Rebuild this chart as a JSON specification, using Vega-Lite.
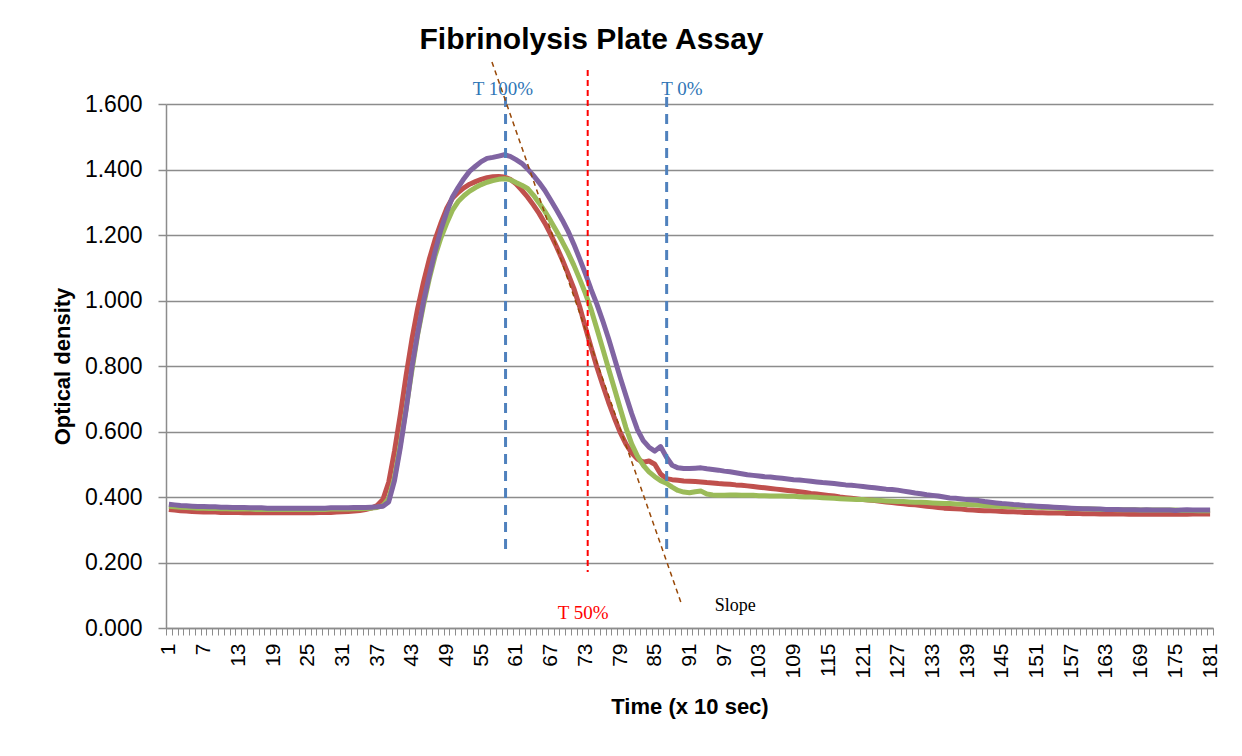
{
  "$schema": "https://vega.github.io/schema/vega-lite/v6.json",
  "autosize": "none",
  "width": 1047,
  "height": 524,
  "padding": {"left": 166, "top": 104, "right": 29, "bottom": 128},
  "background": "white",
  "config": {
    "font": "Liberation Sans",
    "view": {"stroke": null},
    "title": {"font": "Liberation Sans", "fontSize": 30, "fontWeight": "bold", "color": "#000000", "anchor": "middle", "frame": "group", "dx": -98, "offset": 0}
  },
  "title": "Fibrinolysis Plate Assay",
  "datasets": {
    "od": [
      {"t":1,"r":0.362,"g":0.372,"p":0.378},{"t":2,"r":0.360,"g":0.370,"p":0.376},{"t":3,"r":0.358,"g":0.369,"p":0.374},{"t":4,"r":0.357,"g":0.368,"p":0.373},{"t":5,"r":0.356,"g":0.367,"p":0.372},
      {"t":6,"r":0.355,"g":0.366,"p":0.371},{"t":7,"r":0.354,"g":0.366,"p":0.371},{"t":8,"r":0.354,"g":0.365,"p":0.370},{"t":9,"r":0.354,"g":0.365,"p":0.370},{"t":10,"r":0.353,"g":0.364,"p":0.369},
      {"t":11,"r":0.353,"g":0.364,"p":0.369},{"t":12,"r":0.353,"g":0.363,"p":0.368},{"t":13,"r":0.353,"g":0.363,"p":0.368},{"t":14,"r":0.352,"g":0.363,"p":0.368},{"t":15,"r":0.352,"g":0.363,"p":0.367},
      {"t":16,"r":0.352,"g":0.362,"p":0.367},{"t":17,"r":0.352,"g":0.362,"p":0.367},{"t":18,"r":0.352,"g":0.362,"p":0.366},{"t":19,"r":0.352,"g":0.362,"p":0.366},{"t":20,"r":0.352,"g":0.362,"p":0.366},
      {"t":21,"r":0.352,"g":0.362,"p":0.366},{"t":22,"r":0.352,"g":0.362,"p":0.366},{"t":23,"r":0.352,"g":0.362,"p":0.366},{"t":24,"r":0.352,"g":0.362,"p":0.366},{"t":25,"r":0.352,"g":0.362,"p":0.366},
      {"t":26,"r":0.352,"g":0.362,"p":0.366},{"t":27,"r":0.353,"g":0.362,"p":0.366},{"t":28,"r":0.353,"g":0.362,"p":0.366},{"t":29,"r":0.353,"g":0.363,"p":0.367},{"t":30,"r":0.354,"g":0.363,"p":0.367},
      {"t":31,"r":0.355,"g":0.363,"p":0.367},{"t":32,"r":0.356,"g":0.363,"p":0.367},{"t":33,"r":0.357,"g":0.364,"p":0.368},{"t":34,"r":0.359,"g":0.364,"p":0.368},{"t":35,"r":0.362,"g":0.365,"p":0.368},
      {"t":36,"r":0.366,"g":0.366,"p":0.369},{"t":37,"r":0.374,"g":0.368,"p":0.370},{"t":38,"r":0.392,"g":0.374,"p":0.372},{"t":39,"r":0.445,"g":0.395,"p":0.385},{"t":40,"r":0.540,"g":0.460,"p":0.450},
      {"t":41,"r":0.650,"g":0.560,"p":0.550},{"t":42,"r":0.770,"g":0.670,"p":0.665},{"t":43,"r":0.880,"g":0.785,"p":0.795},{"t":44,"r":0.975,"g":0.895,"p":0.900},{"t":45,"r":1.055,"g":0.985,"p":0.995},
      {"t":46,"r":1.125,"g":1.065,"p":1.075},{"t":47,"r":1.185,"g":1.135,"p":1.148},{"t":48,"r":1.235,"g":1.190,"p":1.215},{"t":49,"r":1.280,"g":1.235,"p":1.268},{"t":50,"r":1.312,"g":1.275,"p":1.315},
      {"t":51,"r":1.330,"g":1.302,"p":1.345},{"t":52,"r":1.344,"g":1.320,"p":1.372},{"t":53,"r":1.355,"g":1.334,"p":1.395},{"t":54,"r":1.363,"g":1.345,"p":1.410},{"t":55,"r":1.370,"g":1.354,"p":1.424},
      {"t":56,"r":1.375,"g":1.361,"p":1.434},{"t":57,"r":1.378,"g":1.366,"p":1.437},{"t":58,"r":1.379,"g":1.370,"p":1.441},{"t":59,"r":1.377,"g":1.372,"p":1.445},{"t":60,"r":1.370,"g":1.369,"p":1.440},
      {"t":61,"r":1.356,"g":1.360,"p":1.430},{"t":62,"r":1.337,"g":1.352,"p":1.419},{"t":63,"r":1.316,"g":1.342,"p":1.402},{"t":64,"r":1.292,"g":1.322,"p":1.382},{"t":65,"r":1.266,"g":1.298,"p":1.360},
      {"t":66,"r":1.236,"g":1.272,"p":1.336},{"t":67,"r":1.202,"g":1.243,"p":1.307},{"t":68,"r":1.165,"g":1.212,"p":1.277},{"t":69,"r":1.125,"g":1.180,"p":1.246},{"t":70,"r":1.082,"g":1.146,"p":1.212},
      {"t":71,"r":1.037,"g":1.108,"p":1.172},{"t":72,"r":0.982,"g":1.066,"p":1.128},{"t":73,"r":0.918,"g":1.022,"p":1.082},{"t":74,"r":0.856,"g":0.972,"p":1.033},{"t":75,"r":0.796,"g":0.913,"p":0.988},
      {"t":76,"r":0.742,"g":0.853,"p":0.938},{"t":77,"r":0.690,"g":0.792,"p":0.884},{"t":78,"r":0.642,"g":0.732,"p":0.825},{"t":79,"r":0.598,"g":0.672,"p":0.766},{"t":80,"r":0.562,"g":0.612,"p":0.710},
      {"t":81,"r":0.535,"g":0.562,"p":0.655},{"t":82,"r":0.516,"g":0.525,"p":0.606},{"t":83,"r":0.506,"g":0.497,"p":0.572},{"t":84,"r":0.510,"g":0.477,"p":0.552},{"t":85,"r":0.500,"g":0.462,"p":0.540},
      {"t":86,"r":0.470,"g":0.450,"p":0.554},{"t":87,"r":0.456,"g":0.442,"p":0.522},{"t":88,"r":0.453,"g":0.430,"p":0.497},{"t":89,"r":0.451,"g":0.420,"p":0.489},{"t":90,"r":0.449,"g":0.415,"p":0.487},
      {"t":91,"r":0.448,"g":0.413,"p":0.487},{"t":92,"r":0.447,"g":0.416,"p":0.488},{"t":93,"r":0.446,"g":0.418,"p":0.489},{"t":94,"r":0.444,"g":0.409,"p":0.486},{"t":95,"r":0.443,"g":0.406,"p":0.484},
      {"t":96,"r":0.441,"g":0.405,"p":0.482},{"t":97,"r":0.440,"g":0.405,"p":0.479},{"t":98,"r":0.439,"g":0.406,"p":0.477},{"t":99,"r":0.437,"g":0.406,"p":0.474},{"t":100,"r":0.436,"g":0.405,"p":0.471},
      {"t":101,"r":0.434,"g":0.405,"p":0.468},{"t":102,"r":0.432,"g":0.405,"p":0.466},{"t":103,"r":0.430,"g":0.404,"p":0.464},{"t":104,"r":0.428,"g":0.404,"p":0.462},{"t":105,"r":0.426,"g":0.403,"p":0.461},
      {"t":106,"r":0.424,"g":0.403,"p":0.459},{"t":107,"r":0.422,"g":0.403,"p":0.457},{"t":108,"r":0.420,"g":0.402,"p":0.455},{"t":109,"r":0.418,"g":0.402,"p":0.453},{"t":110,"r":0.416,"g":0.401,"p":0.452},
      {"t":111,"r":0.414,"g":0.400,"p":0.450},{"t":112,"r":0.411,"g":0.400,"p":0.448},{"t":113,"r":0.409,"g":0.399,"p":0.446},{"t":114,"r":0.407,"g":0.398,"p":0.444},{"t":115,"r":0.405,"g":0.397,"p":0.443},
      {"t":116,"r":0.403,"g":0.396,"p":0.441},{"t":117,"r":0.400,"g":0.395,"p":0.439},{"t":118,"r":0.398,"g":0.394,"p":0.437},{"t":119,"r":0.396,"g":0.393,"p":0.436},{"t":120,"r":0.394,"g":0.392,"p":0.434},
      {"t":121,"r":0.392,"g":0.392,"p":0.432},{"t":122,"r":0.391,"g":0.391,"p":0.430},{"t":123,"r":0.389,"g":0.390,"p":0.428},{"t":124,"r":0.387,"g":0.389,"p":0.426},{"t":125,"r":0.385,"g":0.388,"p":0.424},
      {"t":126,"r":0.383,"g":0.387,"p":0.423},{"t":127,"r":0.381,"g":0.386,"p":0.421},{"t":128,"r":0.379,"g":0.386,"p":0.418},{"t":129,"r":0.377,"g":0.385,"p":0.415},{"t":130,"r":0.376,"g":0.384,"p":0.412},
      {"t":131,"r":0.374,"g":0.384,"p":0.410},{"t":132,"r":0.372,"g":0.383,"p":0.407},{"t":133,"r":0.370,"g":0.382,"p":0.405},{"t":134,"r":0.368,"g":0.381,"p":0.403},{"t":135,"r":0.366,"g":0.380,"p":0.400},
      {"t":136,"r":0.365,"g":0.380,"p":0.397},{"t":137,"r":0.364,"g":0.379,"p":0.396},{"t":138,"r":0.363,"g":0.378,"p":0.394},{"t":139,"r":0.361,"g":0.377,"p":0.392},{"t":140,"r":0.360,"g":0.376,"p":0.391},
      {"t":141,"r":0.359,"g":0.375,"p":0.389},{"t":142,"r":0.358,"g":0.374,"p":0.386},{"t":143,"r":0.358,"g":0.373,"p":0.384},{"t":144,"r":0.357,"g":0.372,"p":0.382},{"t":145,"r":0.356,"g":0.371,"p":0.380},
      {"t":146,"r":0.355,"g":0.371,"p":0.379},{"t":147,"r":0.355,"g":0.370,"p":0.377},{"t":148,"r":0.354,"g":0.370,"p":0.376},{"t":149,"r":0.353,"g":0.369,"p":0.374},{"t":150,"r":0.353,"g":0.369,"p":0.373},
      {"t":151,"r":0.352,"g":0.369,"p":0.372},{"t":152,"r":0.352,"g":0.368,"p":0.371},{"t":153,"r":0.351,"g":0.367,"p":0.370},{"t":154,"r":0.351,"g":0.367,"p":0.369},{"t":155,"r":0.351,"g":0.366,"p":0.368},
      {"t":156,"r":0.350,"g":0.365,"p":0.367},{"t":157,"r":0.350,"g":0.365,"p":0.366},{"t":158,"r":0.350,"g":0.364,"p":0.365},{"t":159,"r":0.349,"g":0.364,"p":0.364},{"t":160,"r":0.349,"g":0.363,"p":0.364},
      {"t":161,"r":0.349,"g":0.363,"p":0.363},{"t":162,"r":0.348,"g":0.362,"p":0.363},{"t":163,"r":0.348,"g":0.362,"p":0.362},{"t":164,"r":0.348,"g":0.362,"p":0.362},{"t":165,"r":0.348,"g":0.361,"p":0.362},
      {"t":166,"r":0.348,"g":0.361,"p":0.361},{"t":167,"r":0.347,"g":0.361,"p":0.361},{"t":168,"r":0.347,"g":0.361,"p":0.361},{"t":169,"r":0.347,"g":0.360,"p":0.360},{"t":170,"r":0.347,"g":0.360,"p":0.361},
      {"t":171,"r":0.347,"g":0.360,"p":0.360},{"t":172,"r":0.347,"g":0.360,"p":0.360},{"t":173,"r":0.347,"g":0.360,"p":0.360},{"t":174,"r":0.347,"g":0.360,"p":0.360},{"t":175,"r":0.347,"g":0.360,"p":0.359},
      {"t":176,"r":0.347,"g":0.359,"p":0.360},{"t":177,"r":0.347,"g":0.359,"p":0.361},{"t":178,"r":0.348,"g":0.359,"p":0.360},{"t":179,"r":0.348,"g":0.358,"p":0.360},{"t":180,"r":0.348,"g":0.358,"p":0.360},
      {"t":181,"r":0.348,"g":0.358,"p":0.360}
    ],
    "blueMarks": [
      {"t": 59.2, "top": 1.621, "bottom": 0.223},
      {"t": 87.05, "top": 1.621, "bottom": 0.223}
    ],
    "redMarks": [
      {"t": 73.4, "top": 1.704, "bottom": 0.171}
    ],
    "slope": [
      {"t": 56.85, "v": 1.728},
      {"t": 89.5, "v": 0.079}
    ],
    "blueLabels": [
      {"t": 58.75, "v": 1.646, "label": "T 100%"},
      {"t": 89.7, "v": 1.646, "label": "T 0%"}
    ],
    "redLabels": [
      {"t": 72.6, "v": 0.046, "label": "T 50%"}
    ],
    "blackLabels": [
      {"t": 98.9, "v": 0.067, "label": "Slope"}
    ]
  },
  "resolve": {"axis": {"x": "independent", "y": "independent"}},
  "layer": [
    {
      "data": {"name": "od"},
      "transform": [{"fold": ["r", "g", "p"], "as": ["series", "value"]}],
      "mark": {"type": "line", "strokeWidth": 5, "clip": false, "strokeJoin": "round"},
      "encoding": {
        "x": {
          "field": "t", "type": "quantitative",
          "scale": {"domain": [0.5, 181.5], "nice": false, "zero": false},
          "axis": {
            "orient": "bottom",
            "values": [0.5,1.5,2.5,3.5,4.5,5.5,6.5,7.5,8.5,9.5,10.5,11.5,12.5,13.5,14.5,15.5,16.5,17.5,18.5,19.5,20.5,21.5,22.5,23.5,24.5,25.5,26.5,27.5,28.5,29.5,30.5,31.5,32.5,33.5,34.5,35.5,36.5,37.5,38.5,39.5,40.5,41.5,42.5,43.5,44.5,45.5,46.5,47.5,48.5,49.5,50.5,51.5,52.5,53.5,54.5,55.5,56.5,57.5,58.5,59.5,60.5,61.5,62.5,63.5,64.5,65.5,66.5,67.5,68.5,69.5,70.5,71.5,72.5,73.5,74.5,75.5,76.5,77.5,78.5,79.5,80.5,81.5,82.5,83.5,84.5,85.5,86.5,87.5,88.5,89.5,90.5,91.5,92.5,93.5,94.5,95.5,96.5,97.5,98.5,99.5,100.5,101.5,102.5,103.5,104.5,105.5,106.5,107.5,108.5,109.5,110.5,111.5,112.5,113.5,114.5,115.5,116.5,117.5,118.5,119.5,120.5,121.5,122.5,123.5,124.5,125.5,126.5,127.5,128.5,129.5,130.5,131.5,132.5,133.5,134.5,135.5,136.5,137.5,138.5,139.5,140.5,141.5,142.5,143.5,144.5,145.5,146.5,147.5,148.5,149.5,150.5,151.5,152.5,153.5,154.5,155.5,156.5,157.5,158.5,159.5,160.5,161.5,162.5,163.5,164.5,165.5,166.5,167.5,168.5,169.5,170.5,171.5,172.5,173.5,174.5,175.5,176.5,177.5,178.5,179.5,180.5,181.5],
            "labels": false, "grid": false, "title": null,
            "domainColor": "#8c8c8c", "domainWidth": 1.5,
            "tickColor": "#8c8c8c", "tickWidth": 1, "tickSize": 7
          }
        },
        "y": {
          "field": "value", "type": "quantitative",
          "scale": {"domain": [0, 1.6], "nice": false, "zero": true},
          "axis": {
            "orient": "left",
            "values": [0, 0.2, 0.4, 0.6, 0.8, 1.0, 1.2, 1.4, 1.6],
            "format": ".3f",
            "title": "Optical density",
            "titleFontSize": 22, "titleFontWeight": "bold", "titleColor": "#000000", "titlePadding": 10,
            "labelFontSize": 23, "labelColor": "#000000", "labelPadding": 16,
            "grid": true, "gridColor": "#8c8c8c", "gridWidth": 1.5,
            "domainColor": "#8c8c8c", "domainWidth": 1.5,
            "tickColor": "#8c8c8c", "tickWidth": 1.5, "tickSize": 8
          }
        },
        "color": {
          "field": "series", "type": "nominal",
          "scale": {"domain": ["r", "g", "p"], "range": ["#C0504D", "#9BBB59", "#8064A2"]},
          "legend": null
        }
      }
    },
    {
      "data": {"name": "blueMarks"},
      "mark": {"type": "rule", "color": "#4F81BD", "strokeWidth": 3, "strokeDash": [10, 7], "clip": false},
      "encoding": {
        "x": {
          "field": "t", "type": "quantitative",
          "scale": {"domain": [0.5, 181.5], "nice": false, "zero": false},
          "axis": {
            "orient": "bottom",
            "values": [1,7,13,19,25,31,37,43,49,55,61,67,73,79,85,91,97,103,109,115,121,127,133,139,145,151,157,163,169,175,181],
            "labelAngle": -90, "labelFontSize": 21, "labelColor": "#000000", "labelPadding": 15,
            "labelOverlap": false, "labelBound": false, "labelFlush": false,
            "ticks": false, "domain": false, "grid": false,
            "title": "Time (x 10 sec)", "titleFontSize": 22, "titleFontWeight": "bold", "titleColor": "#000000", "titlePadding": 18
          }
        },
        "y": {"field": "top", "type": "quantitative", "scale": {"domain": [0, 1.6], "nice": false}, "axis": null},
        "y2": {"field": "bottom"}
      }
    },
    {
      "data": {"name": "redMarks"},
      "mark": {"type": "rule", "color": "#FF0000", "strokeWidth": 2, "strokeDash": [6, 4], "clip": false},
      "encoding": {
        "x": {"field": "t", "type": "quantitative", "scale": {"domain": [0.5, 181.5], "nice": false, "zero": false}, "axis": null},
        "y": {"field": "top", "type": "quantitative", "scale": {"domain": [0, 1.6], "nice": false}, "axis": null},
        "y2": {"field": "bottom"}
      }
    },
    {
      "data": {"name": "slope"},
      "mark": {"type": "line", "color": "#984807", "strokeWidth": 1.5, "strokeDash": [5, 4], "clip": false},
      "encoding": {
        "x": {"field": "t", "type": "quantitative", "scale": {"domain": [0.5, 181.5], "nice": false, "zero": false}, "axis": null},
        "y": {"field": "v", "type": "quantitative", "scale": {"domain": [0, 1.6], "nice": false}, "axis": null}
      }
    },
    {
      "data": {"name": "blueLabels"},
      "mark": {"type": "text", "color": "#2E75B6", "font": "Liberation Serif", "fontSize": 19, "align": "center", "baseline": "middle", "clip": false},
      "encoding": {
        "x": {"field": "t", "type": "quantitative", "scale": {"domain": [0.5, 181.5], "nice": false, "zero": false}, "axis": null},
        "y": {"field": "v", "type": "quantitative", "scale": {"domain": [0, 1.6], "nice": false}, "axis": null},
        "text": {"field": "label"}
      }
    },
    {
      "data": {"name": "redLabels"},
      "mark": {"type": "text", "color": "#FF0000", "font": "Liberation Serif", "fontSize": 19, "align": "center", "baseline": "middle", "clip": false},
      "encoding": {
        "x": {"field": "t", "type": "quantitative", "scale": {"domain": [0.5, 181.5], "nice": false, "zero": false}, "axis": null},
        "y": {"field": "v", "type": "quantitative", "scale": {"domain": [0, 1.6], "nice": false}, "axis": null},
        "text": {"field": "label"}
      }
    },
    {
      "data": {"name": "blackLabels"},
      "mark": {"type": "text", "color": "#000000", "font": "Liberation Serif", "fontSize": 18, "align": "center", "baseline": "middle", "clip": false},
      "encoding": {
        "x": {"field": "t", "type": "quantitative", "scale": {"domain": [0.5, 181.5], "nice": false, "zero": false}, "axis": null},
        "y": {"field": "v", "type": "quantitative", "scale": {"domain": [0, 1.6], "nice": false}, "axis": null},
        "text": {"field": "label"}
      }
    }
  ]
}
